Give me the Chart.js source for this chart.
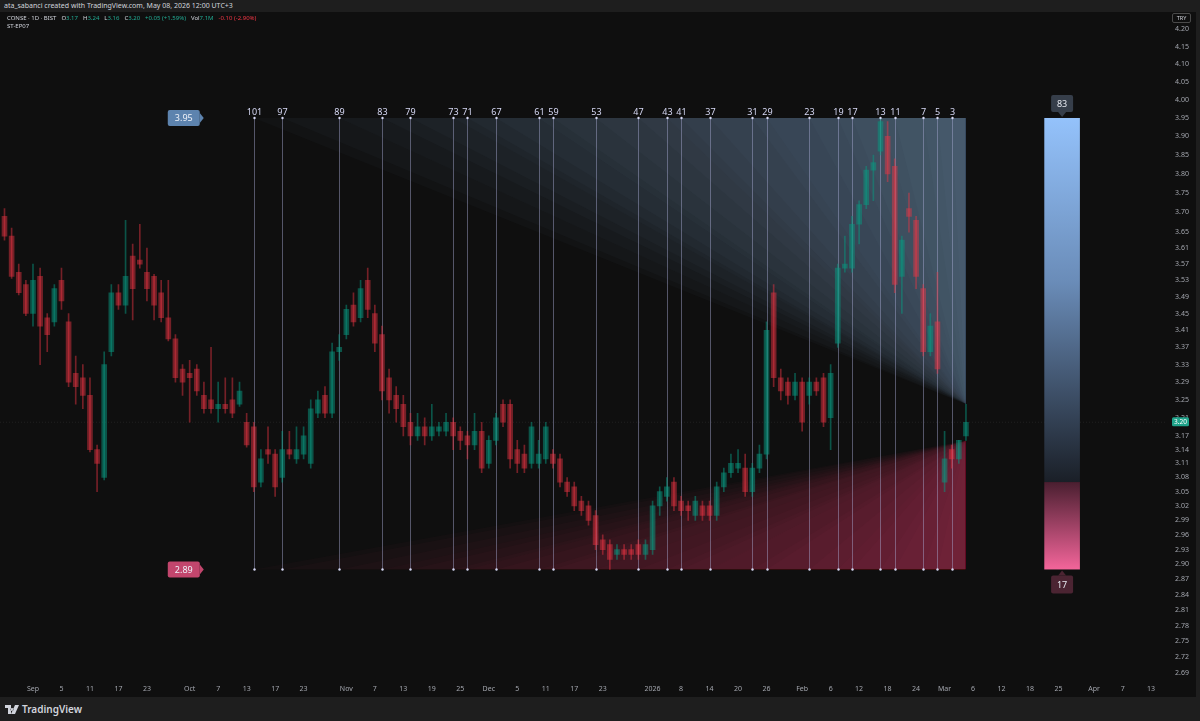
<!DOCTYPE html>
<html>
<head>
<meta charset="utf-8">
<script src="https://cdn.jsdelivr.net/npm/chart.js@4.4.1/dist/chart.umd.min.js"></script>
<style>
  html, body { margin: 0; padding: 0; width: 1200px; height: 721px; overflow: hidden; background: #1e1e1e; font-family: "Noto Sans", Inter, sans-serif; }
  #top { position: absolute; left: 4px; top: 1px; font-size: 7px; line-height: 10px; color: #d1d4dc; }
  #panel { position: absolute; left: 0; top: 12px; width: 1196px; height: 685px; background: #0f0f0f; }
  #legend { position: absolute; left: 7px; top: 14px; font-size: 6px; line-height: 8px; color: #d1d4dc; z-index: 2; white-space: nowrap; }
  #legend .g { color: #22ab94; } #legend .r { color: #f23645; }
  #legend .s { margin-left: 5px; }
  #try { position: absolute; left: 1172px; top: 13px; width: 17px; height: 8px; border: 1px solid #4a4a4a; border-radius: 2px; font-size: 5.5px; line-height: 8px; text-align: center; color: #d1d4dc; z-index: 2; }
  #foot { position: absolute; left: 5px; top: 703px; font-size: 10px; line-height: 12px; color: #d1d4dc; font-weight: 600; display: flex; align-items: center; gap: 3px; }
</style>
</head>
<body>
<div id="top">ata_sabanci created with TradingView.com, May 08, 2026 12:00 UTC+3</div>
<div id="panel"><canvas id="c" width="1196" height="685"></canvas></div>
<div id="legend"><span>CONSE · 1D · BIST</span><span class="s">O<span class="g">3.17</span></span><span class="s">H<span class="g">3.24</span></span><span class="s">L<span class="g">3.16</span></span><span class="s">C<span class="g">3.20</span></span><span class="s g">+0.05 (+1.59%)</span><span class="s">Vol<span class="g">7.1M</span></span><span class="s r">-0.10 (-2.90%)</span><br>ST-EP07</div>
<div id="try">TRY</div>
<div id="foot"><svg width="14" height="9" viewBox="0 0 14 9"><path d="M0 0h6v9H3V3H0z M7 3a1.5 1.5 0 1 0 0.01 0z M10 0h4l-4 9H6z" fill="#d1d4dc"/></svg><span>TradingView</span></div>
<script>
// daily candles, oldest first (last one = current bar)
const opens  = [3.69,3.64,3.55,3.52,3.45,3.54,3.44,3.43,3.53,3.43, 3.31,3.30,3.26,3.14,3.08,3.36,3.50,3.47,3.59,3.58,
                3.55,3.54,3.50,3.44,3.39,3.32,3.31,3.32,3.26,3.25, 3.23,3.24,3.25,3.24,3.20,3.19,3.07,3.14,3.13,3.08,
                3.14,3.12,3.13,3.11,3.22,3.26,3.22,3.36,3.40,3.47, 3.44,3.53,3.45,3.40,3.30,3.26,3.24,3.20,3.17,3.19,
                3.17,3.18,3.18,3.20,3.18,3.17,3.15,3.18,3.11,3.16, 3.24,3.24,3.14,3.13,3.11,3.11,3.12,3.13,3.12,3.07,
                3.06,3.03,3.02,3.00,2.95,2.94,2.92,2.93,2.93,2.94, 2.92,2.93,3.02,3.04,3.07,3.03,3.02,3.00,3.02,3.02,
                3.00,3.06,3.09,3.10,3.10,3.05,3.10,3.13,3.50,3.30, 3.29,3.26,3.29,3.26,3.29,3.30,3.21,3.38,3.56,3.56,
                3.67,3.72,3.81,3.86,3.90,3.82,3.54,3.71,3.68,3.51, 3.36,3.43,3.07,3.14,3.12,3.17];
const highs  = [3.71,3.66,3.57,3.53,3.57,3.56,3.45,3.52,3.56,3.45, 3.35,3.33,3.30,3.15,3.36,3.52,3.52,3.68,3.62,3.67,
                3.61,3.545,3.53,3.53,3.40,3.33,3.34,3.33,3.29,3.37, 3.29,3.30,3.30,3.29,3.22,3.20,3.14,3.19,3.14,3.18,
                3.18,3.19,3.19,3.25,3.27,3.28,3.38,3.40,3.47,3.50, 3.53,3.56,3.47,3.42,3.32,3.28,3.26,3.22,3.22,3.21,
                3.24,3.20,3.22,3.21,3.19,3.18,3.22,3.20,3.17,3.22, 3.25,3.25,3.16,3.15,3.20,3.16,3.20,3.14,3.13,3.08,
                3.07,3.04,3.03,3.01,2.96,2.95,2.94,2.94,2.94,2.95, 2.95,3.03,3.06,3.08,3.08,3.04,3.03,3.04,3.03,3.03,
                3.07,3.10,3.13,3.14,3.13,3.11,3.15,3.43,3.52,3.32, 3.30,3.31,3.30,3.30,3.30,3.31,3.33,3.57,3.64,3.69,
                3.73,3.82,3.85,3.95,3.94,3.84,3.64,3.75,3.69,3.52, 3.45,3.55,3.18,3.15,3.16,3.24];
const lows   = [3.63,3.535,3.495,3.445,3.42,3.33,3.36,3.42,3.46,3.28, 3.24,3.23,3.135,3.05,3.075,3.35,3.46,3.45,3.435,3.56,
                3.48,3.435,3.43,3.385,3.29,3.26,3.20,3.26,3.22,3.22, 3.20,3.22,3.21,3.235,3.145,3.05,3.06,3.11,3.04,3.07,
                3.12,3.11,3.12,3.10,3.21,3.21,3.21,3.34,3.39,3.42, 3.43,3.44,3.36,3.25,3.22,3.20,3.17,3.15,3.16,3.15,
                3.16,3.17,3.17,3.14,3.14,3.12,3.14,3.09,3.10,3.15, 3.19,3.10,3.09,3.09,3.10,3.10,3.11,3.10,3.06,3.04,
                3.01,3.00,2.98,2.93,2.92,2.89,2.91,2.91,2.91,2.91, 2.91,2.92,3.00,3.03,3.01,3.00,2.99,2.99,2.99,2.99,
                2.99,3.05,3.08,3.09,3.04,3.04,3.09,3.12,3.28,3.25, 3.24,3.25,3.18,3.24,3.26,3.19,3.14,3.37,3.55,3.55,
                3.62,3.71,3.73,3.85,3.78,3.50,3.45,3.65,3.51,3.35, 3.35,3.31,3.05,3.10,3.11,3.16];
const closes = [3.64,3.54,3.50,3.45,3.53,3.42,3.40,3.51,3.48,3.29, 3.28,3.26,3.14,3.11,3.33,3.50,3.47,3.54,3.51,3.57,
                3.51,3.47,3.44,3.39,3.30,3.29,3.30,3.27,3.23,3.23, 3.24,3.23,3.22,3.27,3.15,3.06,3.12,3.13,3.06,3.14,
                3.13,3.14,3.17,3.23,3.25,3.22,3.36,3.37,3.46,3.43, 3.51,3.46,3.38,3.27,3.25,3.23,3.19,3.17,3.19,3.17,
                3.19,3.19,3.20,3.17,3.16,3.15,3.18,3.10,3.16,3.21, 3.20,3.12,3.11,3.10,3.19,3.13,3.19,3.11,3.07,3.05,
                3.02,3.01,2.99,2.94,2.93,2.91,2.93,2.92,2.92,2.92, 2.94,3.02,3.05,3.06,3.02,3.01,3.01,3.03,3.00,3.00,
                3.06,3.09,3.11,3.11,3.05,3.10,3.13,3.41,3.30,3.27, 3.26,3.29,3.20,3.29,3.27,3.20,3.31,3.56,3.57,3.67,
                3.72,3.81,3.83,3.94,3.80,3.52,3.63,3.69,3.54,3.36, 3.42,3.32,3.12,3.12,3.16,3.20];

// time axis: bar position -> label
const timeTickIdx    = [4,8,12,16,20,26,30,34,38,42,48,52,56,60,64,68,72,76,80,84,91,95,99,103,107,112,116,120,124,128,132,136,140,144,148,153,157,161];
const timeTickLabels = ['Sep','5','11','17','23','Oct','7','13','17','23','Nov','7','13','19','25','Dec','5','11','17','23','2026','8','14','20','26','Feb','6','12','18','24','Mar','6','12','18','25','Apr','7','13'];
const priceTicks = [4.20,4.15,4.10,4.05,4.00,3.95,3.90,3.85,3.80,3.75,3.70,3.65,3.61,3.57,3.53,3.49,3.45,3.41,3.37,3.33,3.29,3.25,3.21,3.17,3.14,3.11,3.08,3.05,3.02,2.99,2.96,2.93,2.90,2.87,2.84,2.81,2.78,2.75,2.72,2.69];

// indicator (bars ago of pivot lines, range, gauge)
const pivotsAgo = [101,97,89,83,79,73,71,67,61,59,53,47,43,41,37,31,29,23,19,17,13,11,7,5,3];
const rangeTop = 3.95;
const rangeBottom = 2.89;
const gaugeUp = 83;
const gaugeDown = 17;
const gaugeFrom = 146, gaugeTo = 151;

const lastIdx = closes.length - 1;
const isUp = i => closes[i] >= opens[i];
const bodyColors = closes.map((c, i) => isUp(i) ? 'rgba(8,153,129,0.5)' : 'rgba(242,54,69,0.45)');

function roundRect(ctx, x, y, w, h, r) {
  ctx.beginPath();
  ctx.moveTo(x + r, y); ctx.lineTo(x + w - r, y); ctx.quadraticCurveTo(x + w, y, x + w, y + r);
  ctx.lineTo(x + w, y + h - r); ctx.quadraticCurveTo(x + w, y + h, x + w - r, y + h);
  ctx.lineTo(x + r, y + h); ctx.quadraticCurveTo(x, y + h, x, y + h - r);
  ctx.lineTo(x, y + r); ctx.quadraticCurveTo(x, y, x + r, y);
  ctx.closePath();
}

const overlay = {
  id: 'overlay',
  beforeDatasetsDraw(chart) {
    const {ctx, chartArea: a, scales: {x, y}} = chart;
    const xr = x.getPixelForValue(lastIdx);
    const yt = y.getPixelForValue(rangeTop), yb = y.getPixelForValue(rangeBottom);
    const tipHi = y.getPixelForValue(highs[lastIdx]), tipLo = y.getPixelForValue(lows[lastIdx]);
    ctx.save();
    ctx.beginPath(); ctx.rect(a.left, a.top, a.right - a.left, a.bottom - a.top); ctx.clip();

    // last price line
    const yp = y.getPixelForValue(closes[lastIdx]);
    ctx.strokeStyle = 'rgba(255,255,255,0.07)';
    ctx.setLineDash([1, 2]);
    ctx.beginPath(); ctx.moveTo(a.left, yp); ctx.lineTo(a.right, yp); ctx.stroke();
    ctx.setLineDash([]);

    // fans
    pivotsAgo.forEach(n => {
      const xp = x.getPixelForValue(lastIdx + 1 - n);
      ctx.fillStyle = 'rgba(150,178,212,0.027)';
      ctx.beginPath(); ctx.moveTo(xp, yt); ctx.lineTo(xr, yt); ctx.lineTo(xr, tipHi); ctx.closePath(); ctx.fill();
      ctx.fillStyle = 'rgba(240,90,140,0.025)';
      ctx.beginPath(); ctx.moveTo(xp, yb); ctx.lineTo(xr, yb); ctx.lineTo(xr, tipLo); ctx.closePath(); ctx.fill();
    });

    // pivot lines
    ctx.strokeStyle = 'rgba(170,174,215,0.45)';
    ctx.lineWidth = 1;
    pivotsAgo.forEach(n => {
      const xp = Math.round(x.getPixelForValue(lastIdx + 1 - n)) + 0.5;
      ctx.beginPath(); ctx.moveTo(xp, yt); ctx.lineTo(xp, yb); ctx.stroke();
    });
    ctx.restore();
  },
  afterDatasetsDraw(chart) {
    const {ctx, scales: {x, y}} = chart;
    const yt = y.getPixelForValue(rangeTop), yb = y.getPixelForValue(rangeBottom);
    ctx.save();
    ctx.font = '9px "Noto Sans", sans-serif';
    ctx.textAlign = 'center';
    ctx.textBaseline = 'middle';
    pivotsAgo.forEach(n => {
      const xp = Math.round(x.getPixelForValue(lastIdx + 1 - n)) + 0.5;
      ctx.fillStyle = '#d6d8f4';
      ctx.beginPath(); ctx.arc(xp, yt, 1.2, 0, Math.PI * 2); ctx.fill();
      ctx.beginPath(); ctx.arc(xp, yb, 1.2, 0, Math.PI * 2); ctx.fill();
      ctx.fillText(String(n), xp, yt - 5.5);
    });

    // range labels on the left
    const x0 = x.getPixelForValue(lastIdx + 1 - pivotsAgo[0]) - 54;
    [[rangeTop, yt, '#5d83ae'], [rangeBottom, yb, '#c2466d']].forEach(([v, yy, col]) => {
      ctx.fillStyle = col;
      roundRect(ctx, x0 - 32, yy - 8, 32, 16, 2); ctx.fill();
      ctx.beginPath(); ctx.moveTo(x0, yy - 5); ctx.lineTo(x0 + 4, yy); ctx.lineTo(x0, yy + 5); ctx.closePath(); ctx.fill();
      ctx.fillStyle = '#eef1f8';
      ctx.fillText(v.toFixed(2), x0 - 16, yy + 0.5);
    });

    // gauge
    const gl = x.getPixelForValue(gaugeFrom), gr = x.getPixelForValue(gaugeTo);
    const split = rangeBottom + (rangeTop - rangeBottom) * gaugeDown / (gaugeUp + gaugeDown);
    const ys = y.getPixelForValue(split);
    let g = ctx.createLinearGradient(0, yt, 0, ys);
    g.addColorStop(0, '#94c2fb');
    g.addColorStop(0.45, '#6a8cb8');
    g.addColorStop(1, '#1a1f27');
    ctx.fillStyle = g; ctx.fillRect(gl, yt, gr - gl, ys - yt);
    g = ctx.createLinearGradient(0, ys, 0, yb);
    g.addColorStop(0, '#4a1f30');
    g.addColorStop(1, '#f3659a');
    ctx.fillStyle = g; ctx.fillRect(gl, ys, gr - gl, yb - ys);

    const gc = (gl + gr) / 2;
    ctx.fillStyle = '#363e4a';
    roundRect(ctx, gc - 11, yt - 23, 22, 17, 2); ctx.fill();
    ctx.beginPath(); ctx.moveTo(gc - 4, yt - 6); ctx.lineTo(gc, yt - 1); ctx.lineTo(gc + 4, yt - 6); ctx.closePath(); ctx.fill();
    ctx.fillStyle = '#e6e9f0';
    ctx.fillText(String(gaugeUp), gc, yt - 14);
    ctx.fillStyle = '#4b2432';
    roundRect(ctx, gc - 11, yb + 6, 22, 18, 2); ctx.fill();
    ctx.beginPath(); ctx.moveTo(gc - 4, yb + 6); ctx.lineTo(gc, yb + 1); ctx.lineTo(gc + 4, yb + 6); ctx.closePath(); ctx.fill();
    ctx.fillStyle = '#e6e9f0';
    ctx.fillText(String(gaugeDown), gc, yb + 15.5);
    ctx.restore();
  },
  afterDraw(chart) {
    const {ctx, scales: {y}} = chart;
    const yp = y.getPixelForValue(closes[lastIdx]);
    ctx.save();
    ctx.fillStyle = '#1fa38a';
    roundRect(ctx, y.left + 5, yp - 5, 17, 9, 1.5); ctx.fill();
    ctx.fillStyle = '#ffffff';
    ctx.font = '6.5px "Noto Sans", sans-serif';
    ctx.textAlign = 'center'; ctx.textBaseline = 'middle';
    ctx.fillText(closes[lastIdx].toFixed(2), y.left + 13.5, yp);
    ctx.restore();
  }
};

new Chart(document.getElementById('c'), {
  type: 'bar',
  data: {
    datasets: [
      {
        label: 'wick',
        data: opens.map((o, i) => ({x: i, y: [lows[i], highs[i]]})),
        backgroundColor: bodyColors,
        barThickness: 1,
        grouped: false,
        order: 2
      },
      {
        label: 'body',
        data: opens.map((o, i) => ({x: i, y: [o, closes[i]]})),
        backgroundColor: bodyColors,
        barThickness: 5,
        minBarLength: 1,
        grouped: false,
        order: 1
      }
    ]
  },
  options: {
    responsive: false,
    devicePixelRatio: 1,
    animation: false,
    layout: { padding: 0 },
    plugins: { legend: { display: false }, tooltip: { enabled: false } },
    scales: {
      x: {
        type: 'linear',
        min: -0.632,
        max: 163.23,
        offset: false,
        grid: { display: false, drawTicks: false },
        border: { display: false },
        afterBuildTicks: s => { s.ticks = timeTickIdx.map(v => ({value: v})); },
        afterFit: s => { s.height = 16; },
        ticks: {
          autoSkip: false, maxRotation: 0, padding: 4,
          color: '#a3a6ae',
          font: { family: 'Noto Sans', size: 7 },
          callback: (v, i) => timeTickLabels[i]
        }
      },
      y: {
        type: 'logarithmic',
        position: 'right',
        min: 2.6753,
        max: 4.2383,
        grid: { display: false, drawTicks: true, tickLength: 8 },
        border: { display: false },
        afterBuildTicks: s => { s.ticks = priceTicks.map(v => ({value: v})); },
        afterFit: s => { s.width = 29; },
        ticks: {
          autoSkip: false, padding: 0,
          color: '#a3a6ae',
          font: { family: 'Noto Sans', size: 7 },
          callback: v => Number(v).toFixed(2)
        }
      }
    }
  },
  plugins: [overlay]
});
</script>
</body>
</html>
